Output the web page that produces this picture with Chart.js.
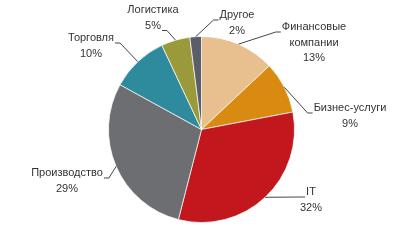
<!DOCTYPE html>
<html lang="ru">
<head>
<meta charset="UTF-8">
<title>Структура</title>
<script src="https://cdn.jsdelivr.net/npm/chart.js@4"></script>
<style>
    html, body { margin: 0; padding: 0; background: #fff; }
    #box { width: 403px; height: 247px; position: relative; }
</style>
</head>
<body>
<div id="box"><canvas id="pie"></canvas></div>
<script>
// данные
const labels = [['Финансовые', 'компании'], ['Бизнес-услуги'], ['IT'], ['Производство'], ['Торговля'], ['Логистика'], ['Другое']];
const shares = [13, 9, 32, 29, 10, 5, 2];
const colors = ['#E8C08F', '#D98A10', '#C1171D', '#6D6E71', '#2E8A9D', '#9B9A3B', '#5B5E66'];

// где стоят подписи (центр текста, первая строка) и с какой стороны к ним идёт линия
const labelPos = [
    { x: 314, y: 27, side: 'left', row: 'first' },
    { x: 350, y: 108, side: 'left', row: 'first' },
    { x: 311, y: 192, side: 'left', row: 'first' },
    { x: 67, y: 173, side: 'right', row: 'first' },
    { x: 91, y: 38, side: 'right', row: 'first' },
    { x: 153, y: 10, side: 'right', row: 'last' },
    { x: 237, y: 15, side: 'left', row: 'first' }
];

const lineH = 15.5;

const outLabels = {
    id: 'outLabels',
    afterDatasetsDraw(chart) {
        const ctx = chart.ctx;
        const arcs = chart.getDatasetMeta(0).data;
        ctx.save();
        ctx.font = '11px "Liberation Sans", Arial, sans-serif';
        ctx.fillStyle = '#333';
        ctx.textAlign = 'center';
        ctx.textBaseline = 'middle';
        arcs.forEach((arc, i) => {
            const p = labelPos[i];
            const lines = labels[i].concat([shares[i] + '%']);
            lines.forEach((t, k) => ctx.fillText(t, p.x, p.y + k * lineH));

            // точка на краю сектора
            const mid = (arc.startAngle + arc.endAngle) / 2;
            const ax = arc.x + Math.cos(mid) * arc.outerRadius;
            const ay = arc.y + Math.sin(mid) * arc.outerRadius;

            const k = p.row === 'last' ? lines.length - 1 : 0;
            const w = ctx.measureText(lines[k]).width;
            const ey = p.y + k * lineH + 5;
            let ex, tx;
            if (p.side === 'left') {
                tx = p.x - w / 2 - 1;
                ex = tx - 5;
            } else {
                tx = p.x + w / 2 + 1;
                ex = tx + 5;
            }
            ctx.strokeStyle = '#444';
            ctx.lineWidth = 1;
            ctx.beginPath();
            ctx.moveTo(tx, ey);
            ctx.lineTo(ex, ey);
            ctx.lineTo(ax, ay);
            ctx.stroke();
        });
        ctx.restore();
    }
};

new Chart(document.getElementById('pie'), {
    type: 'pie',
    data: {
        labels: labels.map(l => l.join(' ')),
        datasets: [{
            data: shares,
            backgroundColor: colors,
            borderColor: 'rgba(255,255,255,0.7)',
            borderWidth: 1
        }]
    },
    options: {
        responsive: true,
        maintainAspectRatio: false,
        animation: false,
        layout: { padding: { top: 36, bottom: 24, left: 108, right: 108 } },
        plugins: {
            legend: { display: false },
            tooltip: { enabled: false }
        }
    },
    plugins: [outLabels]
});
</script>
</body>
</html>
